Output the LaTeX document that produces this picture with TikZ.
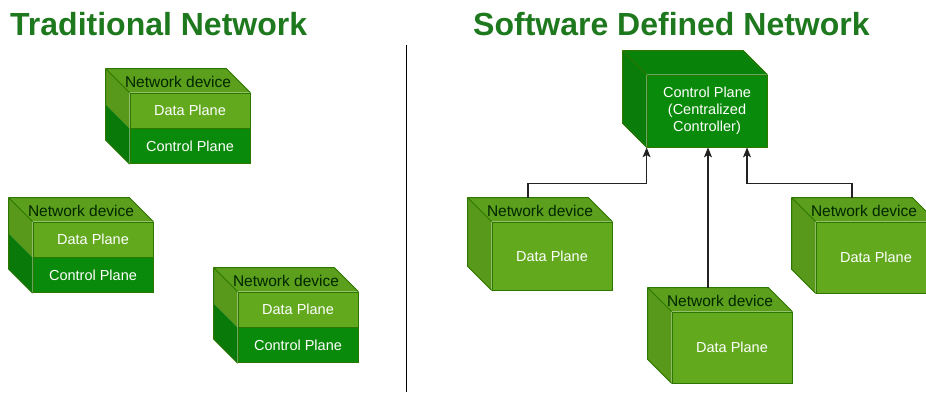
\documentclass[tikz,border=0pt]{standalone}
\usepackage{fontspec}
\setmainfont{Liberation Sans}
\usetikzlibrary{positioning,arrows.meta}

\definecolor{dataGreen}{HTML}{62A91E}
\definecolor{ctrlGreen}{HTML}{0A8A0A}
\definecolor{edgeGreen}{HTML}{2D7600}
\definecolor{titleGreen}{HTML}{1E781E}
\definecolor{lineGrey}{HTML}{222222}

\begin{document}
\begin{tikzpicture}[x=1pt,y=-1pt,
	plane/.style={draw=edgeGreen,line width=0.8,text=white,minimum width=120,minimum height=35,inner sep=0,font=\fontsize{14.5}{17}\selectfont},
	dataplane/.style={plane,fill=dataGreen},
	ctrlplane/.style={plane,fill=ctrlGreen},
	edge/.style={draw=edgeGreen,line width=0.8,line join=round},
	devlabel/.style={text=black!85!green,font=\fontsize{15.5}{18}\selectfont,inner sep=0},
	title/.style={text=titleGreen,font=\fontsize{32}{38}\selectfont\bfseries,inner sep=0,anchor=base west},
	flow/.style={draw=lineGrey,line width=1.1,-{Stealth[length=10pt,width=8pt,inset=2.5pt]}}]
	\useasboundingbox (0,0) rectangle (926,394);
	
	\node[title] (title-trad) at (10,35) {Traditional Network};
	\node[title] (title-sdn) at (473,35) {Software Defined Network};
	\draw[line width=1.2] (406.5,45) -- (406.5,392);
	
	% traditional: every device keeps its own control plane
	\node[dataplane] (d1) at (190,110.5) {Data Plane};
	\node[ctrlplane,below=0 of d1] (c1) {Control Plane};
	\node[dataplane] (d2) at (93,239.5) {Data Plane};
	\node[ctrlplane,below=0 of d2] (c2) {Control Plane};
	\node[dataplane] (d3) at (298,309.5) {Data Plane};
	\node[ctrlplane,below=0 of d3] (c3) {Control Plane};
	
	\foreach \n in {1,2,3}{
		\fill[dataGreen!94!black] (d\n.north west) -- ++(-24,-24) -- ([shift={(-24,-24)}]d\n.north east) -- (d\n.north east) -- cycle;
		\fill[dataGreen!90!black] (d\n.north west) -- ++(-24,-24) -- ([shift={(-24,-24)}]d\n.south west) -- (d\n.south west) -- cycle;
		\fill[ctrlGreen!88!black] (c\n.north west) -- ++(-24,-24) -- ([shift={(-24,-24)}]c\n.south west) -- (c\n.south west) -- cycle;
		\draw[edge] (d\n.north west) -- ++(-24,-24) -- ([shift={(-24,-24)}]d\n.north east) -- (d\n.north east);
		\draw[edge] ([shift={(-24,-24)}]d\n.north west) -- ([shift={(-24,-24)}]c\n.south west) -- (c\n.south west);
		\node[devlabel] (lbl-d\n) at ([shift={(-12,-11)}]d\n.north) {Network device};
	}
	
	% sdn: one controller, devices only forward
	\node[ctrlplane,minimum height=72,align=center] (cp) at (707,111) {Control Plane\\(Centralized\\Controller)};
	\node[dataplane,minimum height=68] (s1) at (552,256) {Data Plane};
	\node[dataplane,minimum height=71] (s2) at (732,347.5) {Data Plane};
	\node[dataplane,minimum height=71] (s3) at (876,257.5) {Data Plane};
	
	\foreach \n/\c in {s1/dataGreen,s2/dataGreen,s3/dataGreen,cp/ctrlGreen}{
		\fill[\c!94!black] (\n.north west) -- ++(-24,-24) -- ([shift={(-24,-24)}]\n.north east) -- (\n.north east) -- cycle;
		\fill[\c!90!black] (\n.north west) -- ++(-24,-24) -- ([shift={(-24,-24)}]\n.south west) -- (\n.south west) -- cycle;
		\draw[edge] (\n.north west) -- ++(-24,-24) -- ([shift={(-24,-24)}]\n.north east) -- (\n.north east);
		\draw[edge] ([shift={(-24,-24)}]\n.north west) -- ([shift={(-24,-24)}]\n.south west) -- (\n.south west);
		\coordinate (\n-top) at ([shift={(-24,-24)}]\n.north);
	}
	\foreach \n in {s1,s2,s3}
		\node[devlabel] (lbl-\n) at ([shift={(-12,-11)}]\n.north) {Network device};
	
	\draw[flow] (s1-top) |- ([shift={(0,36)}]cp.south west) -- (cp.south west);
	\draw[flow] (s2-top) -- (s2-top |- cp.south);
	\draw[flow] (s3-top) |- ([shift={(40,36)}]cp.south) -- ([shift={(40,0)}]cp.south);
\end{tikzpicture}
\end{document}
